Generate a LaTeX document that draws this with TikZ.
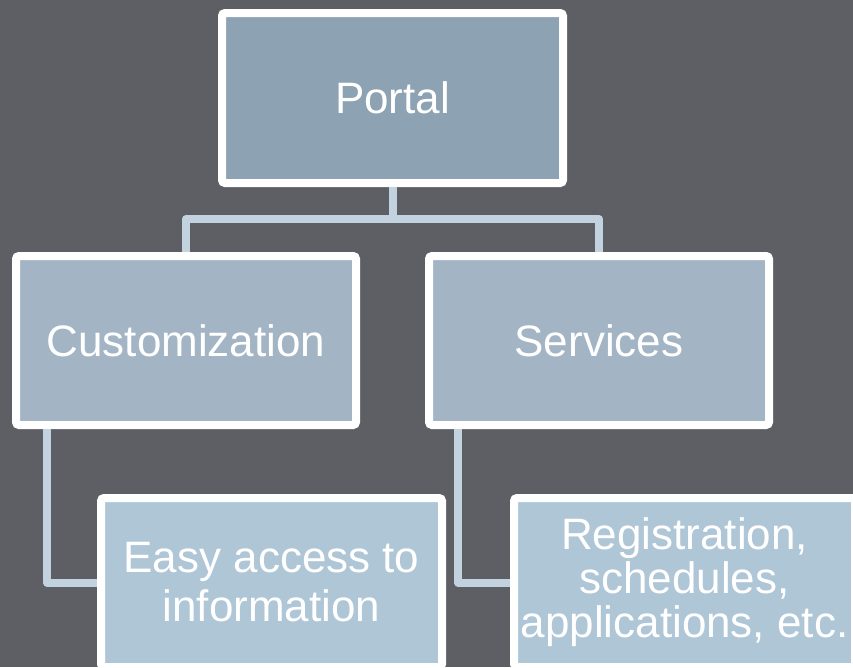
\documentclass[tikz,border=0pt]{standalone}
\usepackage{fontspec}
\setmainfont{Liberation Sans}
\definecolor{bgcol}{HTML}{5E5F64}
\definecolor{topfill}{HTML}{8DA2B3}
\definecolor{midfill}{HTML}{A3B5C5}
\definecolor{lowfill}{HTML}{AFC6D6}
\definecolor{linkcol}{HTML}{C3D2DF}
\begin{document}
\begin{tikzpicture}[x=1pt,y=-1pt,
  box/.style={draw=white, line width=8pt, rounded corners=3pt, text=white,
    inner sep=0pt, align=center, font=\fontsize{44}{48}\selectfont,
    minimum width=341pt, minimum height=170pt},
  link/.style={draw=linkcol, line width=8pt, line join=round}]
\useasboundingbox (0,0) rectangle (853,667);
\clip (0,0) rectangle (853,667);
\fill[bgcol] (0,0) rectangle (853,667);
\node[box, fill=topfill] (portal) at (392.5,98) {Portal};
\node[box, fill=midfill, minimum width=340pt, minimum height=169pt] (cust) at (186,340.5) {Customization};
\node[box, fill=midfill, minimum width=340pt, minimum height=169pt] (serv) at (599,340.5) {Services};
\node[box, fill=lowfill, minimum height=169pt, font=\fontsize{44}{49}\selectfont] (easy) at (271.5,582.5) {Easy access to\\information};
\node[box, fill=lowfill, minimum height=169pt, font=\fontsize{44}{44}\selectfont] (reg) at (684.5,582.5) {Registration,\\schedules,\\applications, etc.};
\draw[link] (portal.south) -- ++(0,32) -| (cust.north);
\draw[link] (portal.south) -- ++(0,32) -| (serv.north);
\draw[link] ([xshift=35pt]cust.south west) |- (easy.west);
\draw[link] ([xshift=33pt]serv.south west) |- (reg.west);
\end{tikzpicture}
\end{document}
